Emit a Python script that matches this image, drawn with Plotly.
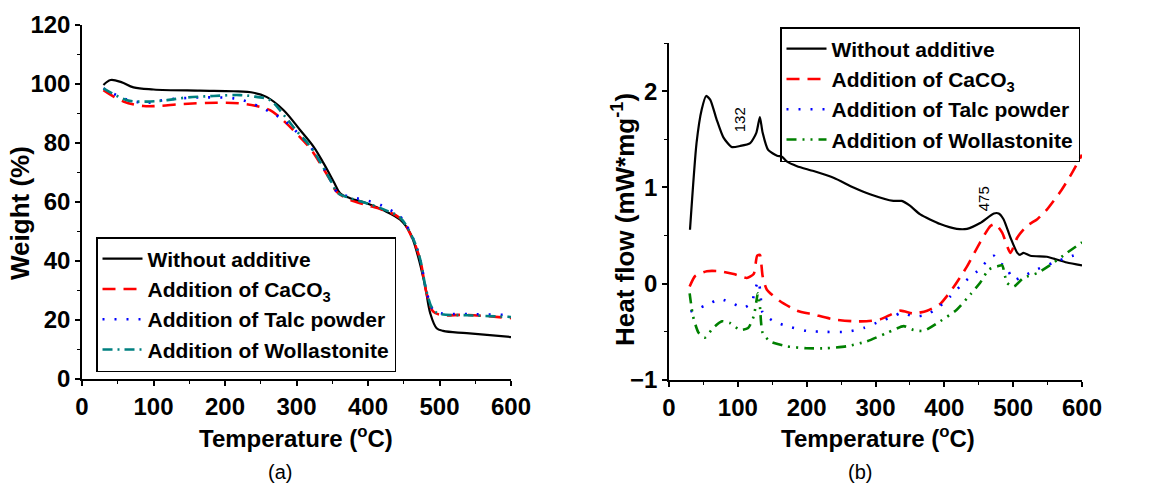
import plotly.graph_objects as go

# ---------------- Data: (a) TGA weight (%) ----------------
tga_T_plain = [30, 40, 55, 72, 100, 165, 212, 240, 258, 282, 305, 324, 338, 352, 361, 375, 398, 421, 445, 459, 470, 480, 487, 496, 505, 538, 600]
tga_W_plain = [99.5, 101.2, 100.5, 98.7, 98.0, 97.6, 97.4, 96.9, 95.5, 91.0, 84.3, 78.6, 73.0, 66.8, 62.9, 61.2, 59.5, 57.2, 53.9, 49.4, 41.5, 31.3, 22.3, 17.2, 16.3, 15.5, 14.2]

tga_T_caco3 = [30, 58, 86, 105, 142, 188, 221, 244, 263, 282, 300, 319, 333, 347, 356, 375, 398, 421, 445, 463, 473, 482, 491, 501, 538, 600]
tga_W_caco3 = [97.8, 93.9, 92.4, 92.4, 93.1, 93.5, 93.3, 92.4, 91.0, 87.4, 83.1, 78.1, 73.0, 67.4, 63.4, 60.6, 58.9, 57.2, 54.4, 47.1, 40.3, 29.0, 22.9, 21.7, 21.7, 20.6]

tga_T_talc = [30, 63, 91, 119, 165, 212, 231, 258, 282, 300, 319, 333, 347, 358, 375, 412, 426, 445, 463, 473, 482, 491, 501, 538, 600]
tga_W_talc = [98.4, 94.6, 93.5, 94.6, 95.3, 95.0, 93.9, 91.0, 87.7, 83.7, 78.8, 73.5, 67.5, 63.0, 61.7, 59.5, 57.8, 55.0, 47.6, 40.5, 29.5, 23.5, 22.3, 22.0, 21.7]

tga_T_woll = [30, 63, 91, 119, 147, 184, 221, 244, 263, 282, 300, 319, 333, 347, 358, 375, 398, 421, 445, 463, 473, 482, 491, 501, 538, 600]
tga_W_woll = [98.4, 94.4, 93.9, 94.4, 95.3, 95.8, 96.1, 95.5, 94.4, 89.4, 84.0, 78.8, 73.5, 67.5, 63.0, 61.2, 59.5, 57.5, 54.6, 47.5, 40.5, 29.5, 23.5, 22.0, 21.6, 21.0]

# ---------------- Data: (b) DSC heat flow (mW/mg) ----------------
dsc_T_plain = [30.5, 40, 47.5, 54, 60, 69, 79, 91, 103, 118, 127, 132, 136, 144, 157, 164, 171, 186, 210, 239, 268, 292, 326, 338, 350, 365, 394, 418, 433, 452, 472, 479, 486, 496, 506, 510, 515, 525, 549, 559, 578, 600]
dsc_H_plain = [0.56, 1.46, 1.81, 1.95, 1.91, 1.71, 1.52, 1.42, 1.43, 1.46, 1.57, 1.73, 1.57, 1.39, 1.33, 1.32, 1.27, 1.22, 1.17, 1.10, 1.00, 0.93, 0.86, 0.86, 0.81, 0.72, 0.62, 0.57, 0.57, 0.63, 0.73, 0.73, 0.67, 0.48, 0.32, 0.30, 0.32, 0.29, 0.28, 0.26, 0.22, 0.19]

dsc_T_caco3 = [30, 38, 55, 74, 94, 113, 123, 128, 132, 136, 142, 161, 186, 210, 239, 268, 287, 307, 336, 355, 375, 394, 413, 433, 452, 467, 474, 484, 496, 506, 520, 535, 549, 569, 583, 600]
dsc_H_caco3 = [-0.03, 0.08, 0.13, 0.13, 0.10, 0.06, 0.10, 0.29, 0.30, 0.08, -0.06, -0.18, -0.28, -0.32, -0.37, -0.39, -0.39, -0.37, -0.28, -0.31, -0.28, -0.21, -0.04, 0.18, 0.43, 0.60, 0.62, 0.53, 0.32, 0.48, 0.60, 0.67, 0.77, 0.96, 1.12, 1.34]

dsc_T_talc = [31, 55, 74, 94, 108, 120, 125, 130, 133, 136, 152, 171, 200, 229, 258, 283, 307, 326, 338, 355, 375, 394, 409, 428, 448, 460, 472, 479, 489, 501, 515, 535, 559, 578, 600]
dsc_H_talc = [-0.29, -0.22, -0.16, -0.21, -0.25, -0.20, -0.06, 0.03, -0.11, -0.30, -0.39, -0.44, -0.49, -0.50, -0.50, -0.46, -0.39, -0.34, -0.30, -0.34, -0.32, -0.23, -0.13, 0.01, 0.13, 0.22, 0.29, 0.22, 0.18, 0.04, 0.08, 0.15, 0.22, 0.27, 0.32]

dsc_T_woll = [30, 35, 43, 52, 64, 77, 89, 103, 115, 123, 127, 129, 132, 136, 147, 171, 200, 229, 258, 287, 317, 341, 355, 370, 394, 418, 438, 452, 465, 477, 484, 491, 501, 515, 535, 559, 578, 600]
dsc_H_woll = [-0.10, -0.34, -0.51, -0.56, -0.46, -0.39, -0.41, -0.48, -0.46, -0.34, -0.18, -0.10, -0.23, -0.51, -0.60, -0.65, -0.67, -0.67, -0.65, -0.60, -0.51, -0.44, -0.48, -0.49, -0.39, -0.27, -0.11, 0.01, 0.15, 0.18, 0.19, 0.01, -0.03, 0.06, 0.11, 0.22, 0.32, 0.43]

FONT = "Liberation Sans, Arial, sans-serif"

fig = go.Figure()

names = ["Without additive", "Addition of CaCO<sub>3</sub>", "Addition of Talc powder", "Addition of Wollastonite"]

# (a)
fig.add_trace(go.Scatter(x=tga_T_plain, y=tga_W_plain, mode="lines", name=names[0],
                         line=dict(color="black", width=2.2, shape="spline"), xaxis="x", yaxis="y", legend="legend"))
fig.add_trace(go.Scatter(x=tga_T_caco3, y=tga_W_caco3, mode="lines", name=names[1],
                         line=dict(color="#FF0000", width=2.6, dash="13px,8px", shape="spline"), xaxis="x", yaxis="y", legend="legend"))
fig.add_trace(go.Scatter(x=tga_T_talc, y=tga_W_talc, mode="lines", name=names[2],
                         line=dict(color="#0000FF", width=2.6, dash="2px,10px", shape="spline"), xaxis="x", yaxis="y", legend="legend"))
fig.add_trace(go.Scatter(x=tga_T_woll, y=tga_W_woll, mode="lines", name=names[3],
                         line=dict(color="#008080", width=2.6, dash="10px,5px,2px,5px", shape="spline"), xaxis="x", yaxis="y", legend="legend"))

# (b)
fig.add_trace(go.Scatter(x=dsc_T_plain, y=dsc_H_plain, mode="lines", name=names[0],
                         line=dict(color="black", width=2.2, shape="spline", smoothing=0.6), xaxis="x2", yaxis="y2", legend="legend2"))
fig.add_trace(go.Scatter(x=dsc_T_caco3, y=dsc_H_caco3, mode="lines", name=names[1],
                         line=dict(color="#FF0000", width=2.6, dash="13px,8px", shape="spline", smoothing=0.6), xaxis="x2", yaxis="y2", legend="legend2"))
fig.add_trace(go.Scatter(x=dsc_T_talc, y=dsc_H_talc, mode="lines", name=names[2],
                         line=dict(color="#0000FF", width=2.6, dash="2px,10px", shape="spline", smoothing=0.6), xaxis="x2", yaxis="y2", legend="legend2"))
fig.add_trace(go.Scatter(x=dsc_T_woll, y=dsc_H_woll, mode="lines", name=names[3],
                         line=dict(color="#008000", width=2.6, dash="10px,6px,2px,6px,2px,6px", shape="spline", smoothing=0.6), xaxis="x2", yaxis="y2", legend="legend2"))

W, H = 1154, 487
tickfont = dict(family=FONT, size=24, color="black", weight="bold")
axcommon = dict(showgrid=False, zeroline=False, showline=True, linecolor="black", linewidth=1.5,
                ticks="outside", ticklen=5, tickwidth=1.5, tickcolor="black", tickfont=tickfont,
                automargin=False)

legfont = dict(family=FONT, size=21, color="black", weight="bold")

fig.update_layout(
    width=W, height=H,
    margin=dict(l=0, r=0, t=0, b=0, autoexpand=False),
    paper_bgcolor="white", plot_bgcolor="white",
    xaxis=dict(domain=[82 / W, 511 / W], range=[0, 600], dtick=100, anchor="y",
               minor=dict(ticks="outside", ticklen=3, dtick=50, tickcolor="black", tickwidth=1.2), **axcommon),
    yaxis=dict(domain=[(H - 379) / H, (H - 24.5) / H], range=[0, 120], dtick=20, anchor="x",
               minor=dict(ticks="outside", ticklen=3, dtick=10, tickcolor="black", tickwidth=1.2), **axcommon),
    xaxis2=dict(domain=[669 / W, 1082 / W], range=[0, 600], dtick=100, anchor="y2",
                minor=dict(ticks="outside", ticklen=3, dtick=50, tickcolor="black", tickwidth=1.2), **axcommon),
    yaxis2=dict(domain=[(H - 380) / H, (H - 43) / H], range=[-1, 2.5], tickvals=[-1, 0, 1, 2], anchor="x2",
                minor=dict(ticks="outside", ticklen=3, tickvals=[-0.5, 0.5, 1.5, 2.5], tickcolor="black", tickwidth=1.2), **axcommon),
    legend=dict(x=96 / W, y=(H - 237) / H, xanchor="left", yanchor="top",
                bordercolor="black", borderwidth=1.5, bgcolor="white",
                font=legfont, tracegroupgap=0, itemwidth=40),
    legend2=dict(x=780 / W, y=(H - 27) / H, xanchor="left", yanchor="top",
                 bordercolor="black", borderwidth=1.5, bgcolor="rgba(255,255,255,0)",
                 font=legfont, tracegroupgap=0, itemwidth=40),
    showlegend=True,
)

def pann(text, px, py, size, bold=True, angle=0):
    f = dict(family=FONT, size=size, color="black")
    if bold:
        f["weight"] = "bold"
    return dict(text=text, x=px / W, y=(H - py) / H, xref="paper", yref="paper", textangle=angle,
                xanchor="center", yanchor="middle", showarrow=False, font=f)

ann = [
    pann("Weight (%)", 20, 213, 26, angle=-90),
    pann("Temperature (<sup>o</sup>C)", 296, 437, 24),
    pann("Heat flow (mW*mg<sup>-1</sup>)", 623, 220, 26, angle=-90),
    pann("Temperature (<sup>o</sup>C)", 878, 437, 24),
    pann("(a)", 280, 472, 20, bold=False),
    pann("(b)", 860, 472, 20, bold=False),
    dict(text="132", x=102, y=1.70, xref="x2", yref="y2", textangle=-90, xanchor="center", yanchor="middle",
         showarrow=False, font=dict(family=FONT, size=15, color="black")),
    dict(text="475", x=458, y=0.88, xref="x2", yref="y2", textangle=-90, xanchor="center", yanchor="middle",
         showarrow=False, font=dict(family=FONT, size=15, color="black")),
]
fig.update_layout(annotations=ann)

fig.write_html("out.html", config={"displayModeBar": False},
               post_script="document.body.style.margin='0px';document.body.style.overflow='hidden';")
